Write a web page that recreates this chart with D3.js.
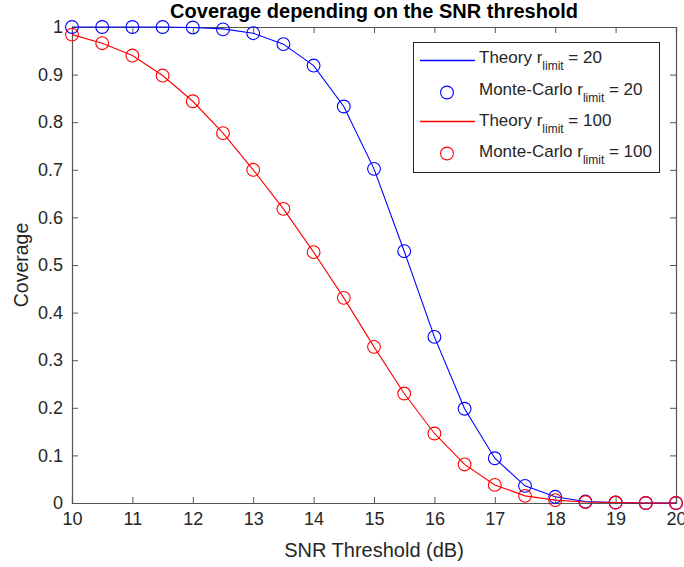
<!DOCTYPE html>
<html>
<head>
<meta charset="utf-8">
<script src="https://cdn.jsdelivr.net/npm/d3@7/dist/d3.min.js"></script>
<style>
  html, body { margin: 0; padding: 0; background: #fff; }
  text { font-family: "Liberation Sans", Arial, Helvetica, sans-serif; }
</style>
</head>
<body>
<svg id="chart" width="684" height="567"></svg>
<script>
// SNR threshold grid (dB)
const snr = [10, 10.5, 11, 11.5, 12, 12.5, 13, 13.5, 14, 14.5, 15, 15.5, 16, 16.5, 17, 17.5, 18, 18.5, 19, 19.5, 20];

// Coverage, r_limit = 20
const theory20 = [1.000, 1.000, 1.000, 1.000, 0.999, 0.996, 0.987, 0.964, 0.919, 0.833, 0.702, 0.529, 0.349, 0.198, 0.094, 0.036, 0.013, 0.003, 0.001, 0.000, 0.000];
const mc20     = [1.000, 1.000, 1.000, 1.000, 0.999, 0.995, 0.987, 0.964, 0.919, 0.833, 0.702, 0.529, 0.349, 0.198, 0.094, 0.036, 0.013, 0.003, 0.001, 0.000, 0.000];

// Coverage, r_limit = 100
const theory100 = [0.984, 0.966, 0.940, 0.898, 0.844, 0.777, 0.700, 0.618, 0.527, 0.431, 0.328, 0.230, 0.146, 0.081, 0.038, 0.015, 0.006, 0.002, 0.001, 0.000, 0.000];
const mc100     = [0.984, 0.966, 0.940, 0.898, 0.844, 0.777, 0.700, 0.618, 0.527, 0.431, 0.328, 0.230, 0.146, 0.081, 0.038, 0.015, 0.006, 0.002, 0.001, 0.000, 0.000];

const xTicks = [10, 11, 12, 13, 14, 15, 16, 17, 18, 19, 20];
const yTicks = [0, 0.1, 0.2, 0.3, 0.4, 0.5, 0.6, 0.7, 0.8, 0.9, 1];

const series = [
  { label: "Theory", r: "20",  color: "#0000ff", values: theory20,  kind: "line" },
  { label: "Monte-Carlo", r: "20",  color: "#0000ff", values: mc20,  kind: "marker" },
  { label: "Theory", r: "100", color: "#ff0000", values: theory100, kind: "line" },
  { label: "Monte-Carlo", r: "100", color: "#ff0000", values: mc100, kind: "marker" }
];

const svg = d3.select("#chart");
const box = { left: 72, right: 676, top: 27, bottom: 503 };
const axisColor = "#555555", textColor = "#262626";

const x = d3.scaleLinear().domain([10, 20]).range([box.left, box.right]);
const y = d3.scaleLinear().domain([0, 1]).range([box.bottom, box.top]);

// ticks pointing inward on all four sides
const tickLen = 6;
const axes = svg.append("g");
axes.append("g").attr("transform", `translate(0,${box.bottom})`)
  .call(d3.axisBottom(x).tickValues(xTicks).tickSize(-tickLen).tickPadding(9).tickFormat(d3.format("d")));
axes.append("g").attr("transform", `translate(0,${box.top})`)
  .call(d3.axisTop(x).tickValues(xTicks).tickSize(-tickLen).tickFormat(""));
axes.append("g").attr("transform", `translate(${box.left},0)`)
  .call(d3.axisLeft(y).tickValues(yTicks).tickSize(-tickLen).tickPadding(9).tickFormat(d => d === 0 || d === 1 ? d3.format("d")(d) : d3.format(".1f")(d)));
axes.append("g").attr("transform", `translate(${box.right},0)`)
  .call(d3.axisRight(y).tickValues(yTicks).tickSize(-tickLen).tickFormat(""));
axes.selectAll(".domain").attr("stroke", axisColor).attr("stroke-width", 1.2);
axes.selectAll(".tick line").attr("stroke", axisColor).attr("stroke-width", 1);
axes.selectAll(".tick text").attr("fill", textColor).style("font-size", "18px")
  .style("font-family", "'Liberation Sans', Arial, sans-serif");

const plot = svg.append("g");
const line = d3.line().x((d, i) => x(snr[i])).y(d => y(d));

series.forEach(s => {
  if (s.kind === "line") {
    plot.append("path").datum(s.values).attr("d", line)
      .attr("fill", "none").attr("stroke", s.color).attr("stroke-width", 1.1);
  } else {
    plot.append("g").selectAll("circle").data(s.values).join("circle")
      .attr("cx", (d, i) => x(snr[i])).attr("cy", d => y(d)).attr("r", 6.4)
      .attr("fill", "none").attr("stroke", s.color).attr("stroke-width", 1.1);
  }
});

// title and axis labels
svg.append("text").attr("x", (box.left + box.right) / 2).attr("y", 18).attr("text-anchor", "middle")
  .style("font-size", "20px").style("font-weight", "bold").attr("fill", "#000")
  .text("Coverage depending on the SNR threshold");
svg.append("text").attr("x", (box.left + box.right) / 2).attr("y", 557).attr("text-anchor", "middle")
  .style("font-size", "20px").attr("fill", textColor).text("SNR Threshold (dB)");
svg.append("text").attr("transform", `translate(27.5,${(box.top + box.bottom) / 2}) rotate(-90)`)
  .attr("text-anchor", "middle").style("font-size", "19.5px").attr("fill", textColor).text("Coverage");

// legend
const lg = svg.append("g");
lg.append("rect").attr("x", 413.5).attr("y", 42.5).attr("width", 246).attr("height", 130)
  .attr("fill", "#fff").attr("stroke", "#262626").attr("stroke-width", 1);
const symbolY = [60.5, 92.5, 121.5, 153.5];
const baselineY = [63, 95, 125.5, 157];
series.forEach((s, i) => {
  const cy = symbolY[i];
  if (s.kind === "line") {
    lg.append("line").attr("x1", 420).attr("x2", 475).attr("y1", cy).attr("y2", cy)
      .attr("stroke", s.color).attr("stroke-width", 1.5);
  } else {
    lg.append("circle").attr("cx", 447).attr("cy", cy).attr("r", 6.4)
      .attr("fill", "none").attr("stroke", s.color).attr("stroke-width", 1.1);
  }
  const t = lg.append("text").attr("x", 479).attr("y", baselineY[i]).attr("fill", textColor)
    .style("font-size", "17px");
  t.append("tspan").text(s.label + " r");
  t.append("tspan").attr("dy", 7).style("font-size", "12px").text("limit");
  t.append("tspan").attr("dy", -7).text(" = " + s.r);
});
</script>
</body>
</html>
